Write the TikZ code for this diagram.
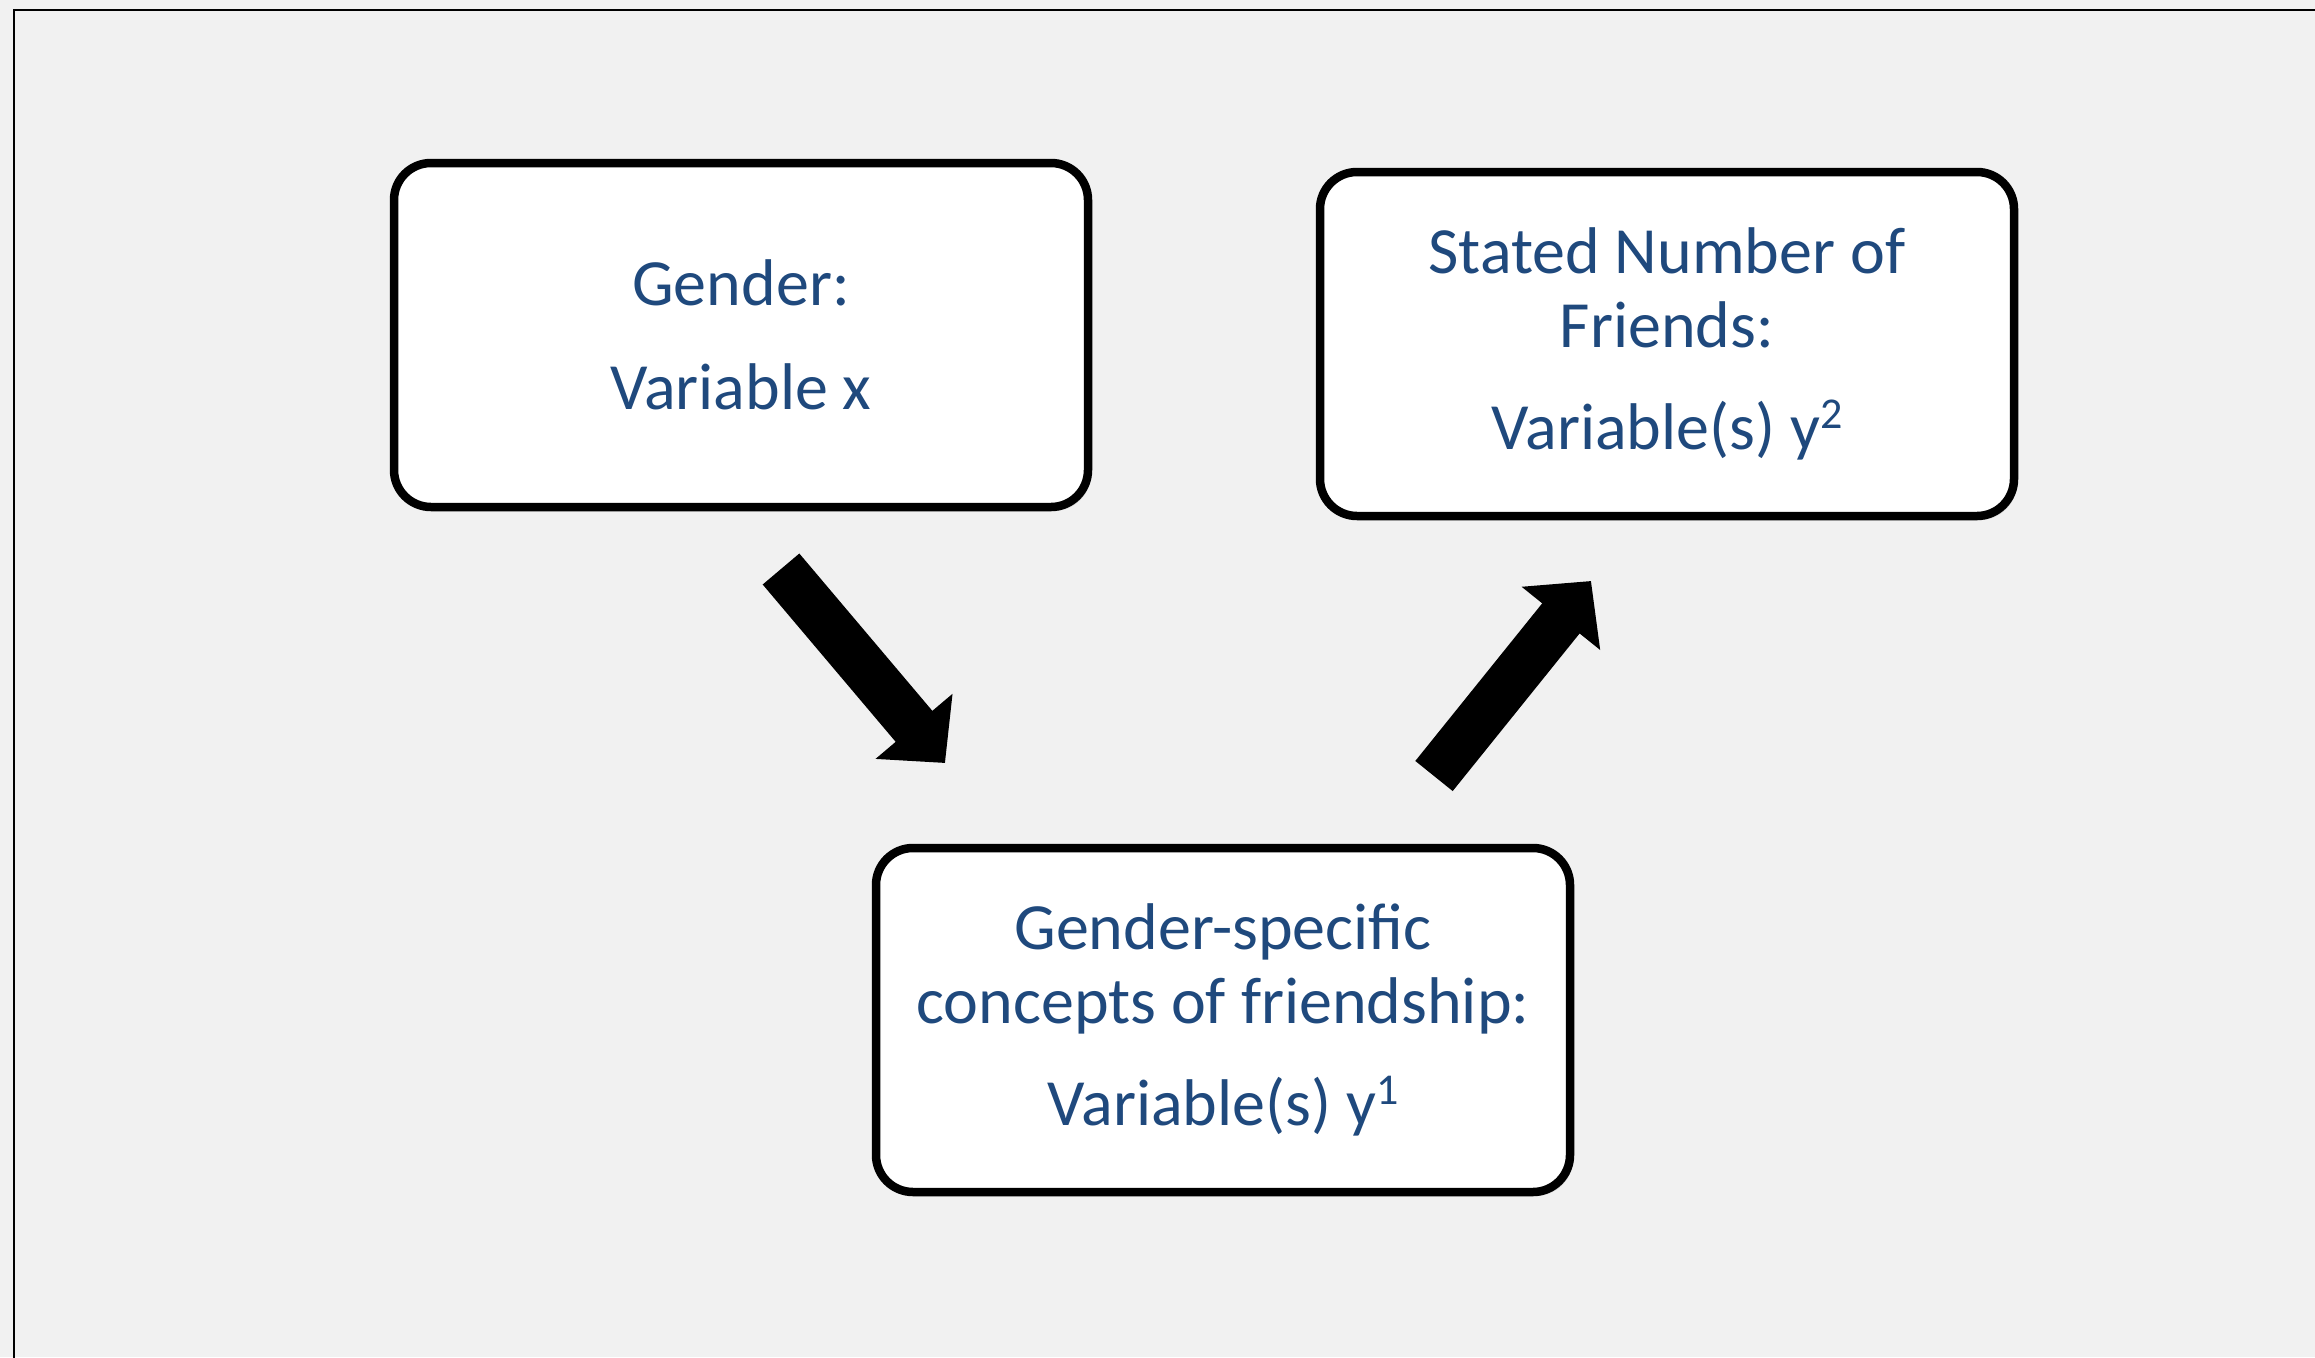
\documentclass[tikz,border=0pt]{standalone}
\usepackage{fontspec}
\setmainfont{Carlito}
\usetikzlibrary{arrows.meta,shadows}
\definecolor{slidegray}{RGB}{241,241,241}
\definecolor{textblue}{RGB}{31,73,125}
\newcommand{\supidx}[1]{\raisebox{21pt}{\fontsize{44}{44}\selectfont #1}}
\begin{document}
\begin{tikzpicture}[
    x=1pt, y=-1pt,
    varbox/.style={
      rectangle,
      draw=black,
      fill=white,
      line width=8.5pt,
      rounded corners=37pt,
      minimum width=694pt,
      minimum height=344pt,
      align=center,
      text=textblue,
      font=\fontsize{66}{74}\selectfont,
      drop shadow={opacity=0.18, shadow xshift=3pt, shadow yshift=-4pt}
    },
    blockarrow/.style={
      line width=48pt,
      -{Triangle[width=98pt, length=48pt]},
      black
    }
  ]

    % Slide background and frame
    \useasboundingbox (0,0) rectangle (2315,1357);
    \fill[slidegray] (0,0) rectangle (2315,1357);
    \draw[line width=2.5pt] (14,10) rectangle (2360,1400);

    % Variables
    \node[varbox] (gender) at (741,335) {Gender:\\[30pt]Variable x};
    \node[varbox] (friends) at (1667,344) {Stated Number of\\Friends:\\[28pt]Variable(s) y\supidx{2}};
    \node[varbox] (concepts) at (1223,1020) {Gender-specific\\concepts of friendship:\\[28pt]Variable(s) y\supidx{1}};

    % Arrow end points
    \coordinate (gender tail) at (781,569);
    \coordinate (concepts head) at (945,763);
    \coordinate (concepts tail) at (1434,776);
    \coordinate (friends head) at (1591,581);

    % Block arrows
    \draw[blockarrow] (gender tail) -- (concepts head);
    \draw[blockarrow] (concepts tail) -- (friends head);

  \end{tikzpicture}
\end{document}
